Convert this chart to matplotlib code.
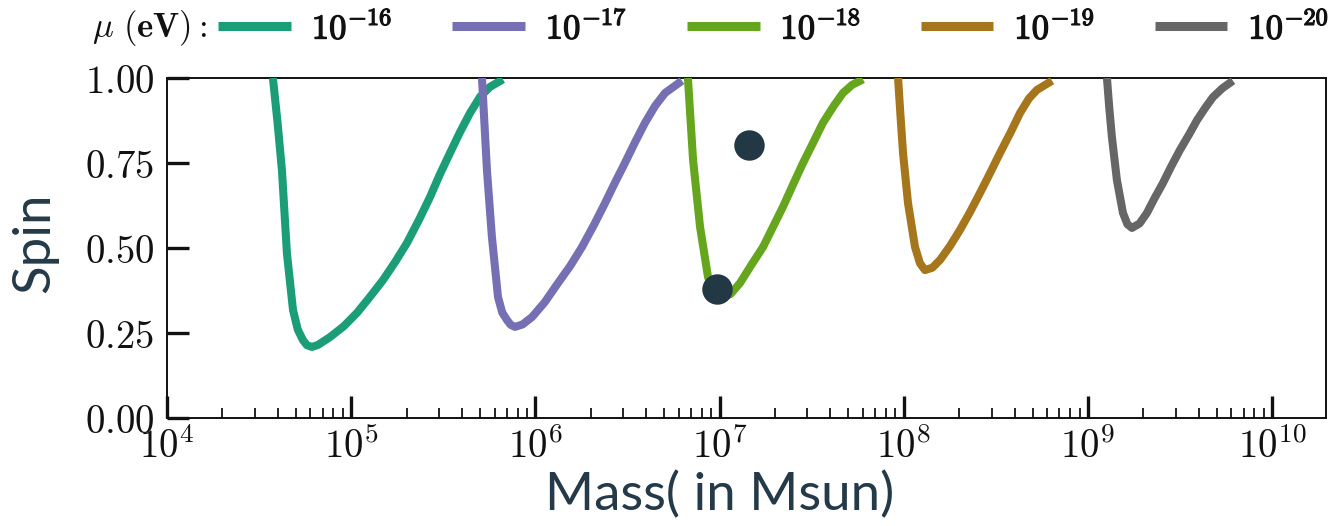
import numpy as np
import matplotlib
matplotlib.use("Agg")
import matplotlib.pyplot as plt
import matplotlib.patheffects as pe
from matplotlib.ticker import LogLocator, NullFormatter, FixedLocator

plt.rcParams['mathtext.fontset'] = 'cm'

# ---- data (log10 of mass in Msun, spin) ----
labels = [r'$\mathbf{10^{-16}}$', r'$\mathbf{10^{-17}}$', r'$\mathbf{10^{-18}}$',
          r'$\mathbf{10^{-19}}$', r'$\mathbf{10^{-20}}$']
colors = ['#1b9e77', '#7570b3', '#66a61e', '#a6761d', '#666666']

logm_16 = [4.575, 4.600, 4.624, 4.651, 4.684, 4.710, 4.738, 4.760, 4.787, 4.820, 4.885, 4.96, 5.031, 5.10, 5.173, 5.24, 5.303, 5.37, 5.428, 5.48, 5.536, 5.59, 5.645, 5.70, 5.754, 5.824]
spin_16 = [1.000, 0.870, 0.729, 0.485, 0.318, 0.260, 0.229, 0.214, 0.209, 0.215, 0.238, 0.270, 0.309, 0.355, 0.406, 0.460, 0.515, 0.585, 0.650, 0.715, 0.779, 0.840, 0.897, 0.945, 0.974, 0.996]

logm_17 = [5.710, 5.724, 5.737, 5.764, 5.797, 5.820, 5.846, 5.866, 5.889, 5.930, 5.982, 6.05, 6.123, 6.19, 6.253, 6.32, 6.378, 6.43, 6.486, 6.54, 6.595, 6.65, 6.704, 6.796]
spin_17 = [1.000, 0.860, 0.729, 0.532, 0.356, 0.310, 0.288, 0.274, 0.268, 0.275, 0.297, 0.340, 0.397, 0.448, 0.503, 0.570, 0.632, 0.690, 0.750, 0.810, 0.868, 0.918, 0.956, 0.992]

logm_18 = [6.828, 6.842, 6.856, 6.894, 6.937, 6.970, 7.013, 7.060, 7.111, 7.17, 7.236, 7.29, 7.344, 7.40, 7.453, 7.51, 7.561, 7.62, 7.670, 7.72, 7.779]
spin_18 = [1.000, 0.880, 0.759, 0.562, 0.415, 0.370, 0.353, 0.365, 0.397, 0.448, 0.503, 0.562, 0.621, 0.688, 0.750, 0.812, 0.868, 0.918, 0.956, 0.980, 0.996]

logm_19 = [7.969, 7.982, 7.996, 8.023, 8.061, 8.088, 8.115, 8.155, 8.197, 8.25, 8.305, 8.36, 8.414, 8.47, 8.522, 8.58, 8.631, 8.68, 8.723, 8.805]
spin_19 = [1.000, 0.890, 0.779, 0.632, 0.503, 0.455, 0.435, 0.442, 0.465, 0.505, 0.553, 0.606, 0.662, 0.722, 0.779, 0.840, 0.897, 0.940, 0.965, 0.992]

logm_20 = [9.103, 9.116, 9.130, 9.157, 9.190, 9.214, 9.239, 9.280, 9.320, 9.36, 9.407, 9.45, 9.499, 9.55, 9.592, 9.64, 9.679, 9.73, 9.787]
spin_20 = [1.000, 0.910, 0.826, 0.700, 0.603, 0.570, 0.559, 0.572, 0.603, 0.645, 0.691, 0.738, 0.788, 0.835, 0.876, 0.915, 0.944, 0.970, 0.992]

curves_logm = [logm_16, logm_17, logm_18, logm_19, logm_20]
curves_spin = [spin_16, spin_17, spin_18, spin_19, spin_20]

dots_logm = [6.986, 7.160]
dots_spin = [0.379, 0.803]

yticks = [0.0, 0.25, 0.5, 0.75, 1.0]
ytick_labels = [r'$0.00$', r'$0.25$', r'$0.50$', r'$0.75$', r'$1.00$']
xticks = [1e4, 1e5, 1e6, 1e7, 1e8, 1e9, 1e10]
xtick_labels = [r'$10^{4}$', r'$10^{5}$', r'$10^{6}$', r'$10^{7}$', r'$10^{8}$', r'$10^{9}$', r'$10^{10}$']

# ---- figure ----
W, H = 1338, 526
fig = plt.figure(figsize=(W / 100, H / 100), dpi=100)
ax = fig.add_axes([167 / W, 1 - 418 / H, (1326 - 167) / W, (418 - 78) / H])

handles = []
for lm, sp, c, lab in zip(curves_logm, curves_spin, colors, labels):
    h, = ax.plot(10 ** np.array(lm), sp, color=c, lw=5.8, label=lab,
                 solid_joinstyle='round', solid_capstyle='butt', zorder=3)
    handles.append(h)

ax.scatter(10 ** np.array(dots_logm), dots_spin, s=480, color='#233845', zorder=5, linewidths=0)

ax.set_xscale('log')
ax.set_xlim(1e4, 1.96e10)
ax.set_ylim(0, 1)

ax.xaxis.set_major_locator(FixedLocator(xticks))
ax.set_xticklabels(xtick_labels)
ax.xaxis.set_minor_locator(LogLocator(base=10, subs=np.arange(2, 10), numticks=20))
ax.xaxis.set_minor_formatter(NullFormatter())
ax.set_yticks(yticks)
ax.set_yticklabels(ytick_labels)

ax.tick_params(axis='both', which='major', direction='in', length=16, width=2.4,
               labelsize=28, colors='#111111', top=False, right=False)
ax.tick_params(axis='x', which='major', pad=7)
ax.tick_params(axis='y', which='major', pad=9)
ax.tick_params(axis='x', which='minor', direction='in', length=7, width=1.2, top=False)
ax.tick_params(axis='y', which='minor', left=False, right=False)
for s in ax.spines.values():
    s.set_linewidth(1.4)
    s.set_color('#111111')

lab_color = '#243a48'
fig.text(720 / W, 1 - 495 / H, 'Mass( in Msun)', ha='center', va='center',
         fontsize=38, family='Lato', color=lab_color)
fig.text(35 / W, 1 - 243 / H, 'Spin', ha='center', va='center', rotation=90,
         fontsize=38, family='Lato', color=lab_color)

bold_fx = [pe.withStroke(linewidth=0.9, foreground='#111111')]
fig.text(207 / W, 1 - 28 / H, r'$\mu\ (\mathbf{eV}){:}$', ha='right', va='center',
         fontsize=25, color='#111111')
leg = fig.legend(handles=handles, loc='center left', bbox_to_anchor=(218 / W, 1 - 28 / H),
                 ncol=5, frameon=False, fontsize=25, handlelength=2.1, handletextpad=0.6,
                 columnspacing=1.72, borderpad=0, borderaxespad=0)
for l in leg.get_lines():
    l.set_linewidth(6.5)
for t in leg.get_texts():
    t.set_color('#111111')
    t.set_path_effects(bold_fx)

fig.savefig('out.png', dpi=100)
